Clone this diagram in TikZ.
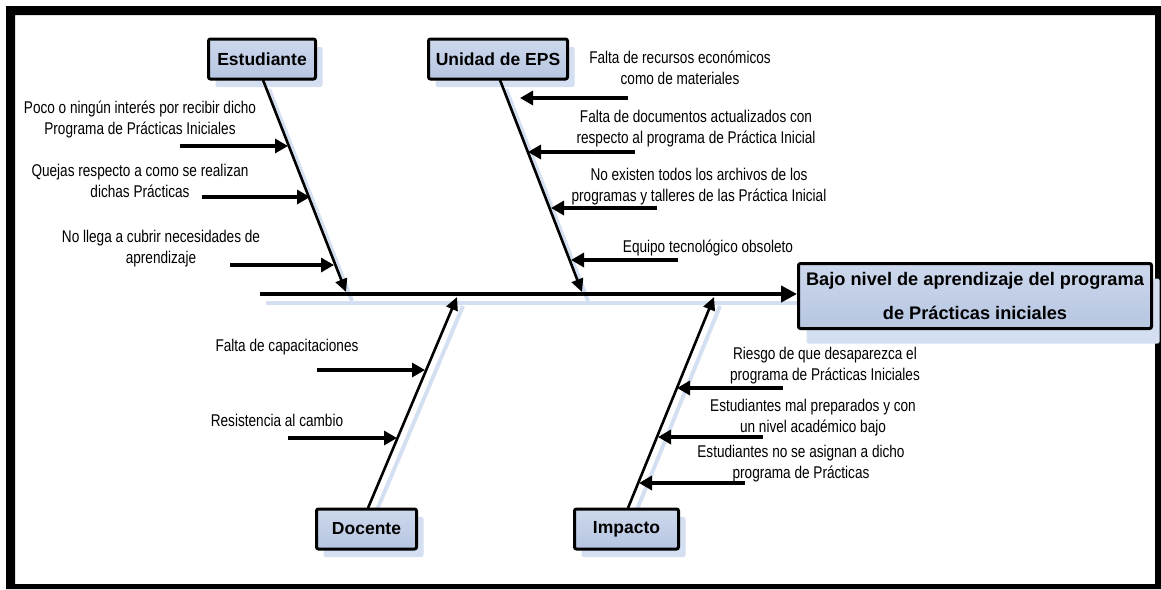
\documentclass[tikz,border=0pt]{standalone}
\usepackage{fontspec}
\setmainfont{Liberation Sans}
\newfontfamily\narrowfont[FakeStretch=0.8]{Liberation Sans}
\usetikzlibrary{arrows.meta,shadows}
\definecolor{boxfill}{RGB}{182,197,225}
\definecolor{boxtop}{RGB}{205,216,236}
\definecolor{shadowc}{RGB}{212,223,241}
\begin{document}
\begin{tikzpicture}[x=1pt,y=-1pt,
  cause/.style={font=\narrowfont\fontsize{17}{21}\selectfont, align=center, inner sep=0pt},
  catbox/.style={draw=black, line width=3pt, rounded corners=2pt, top color=boxtop, bottom color=boxfill,
     font=\bfseries\fontsize{17.5}{20}\selectfont, inner sep=0pt, minimum width=107pt, minimum height=40pt,
     drop shadow={shadow xshift=7pt, shadow yshift=-8pt, fill=shadowc, opacity=1}},
  effbox/.style={draw=black, line width=3pt, rounded corners=2pt, top color=boxtop, bottom color=boxfill,
     font=\bfseries\fontsize{18.2}{34}\selectfont, align=center, inner sep=0pt, minimum width=353pt, minimum height=65pt,
     drop shadow={shadow xshift=8pt, shadow yshift=-15pt, fill=shadowc, opacity=1}},
  shadowline/.style={draw=shadowc, line width=4pt},
  bone/.style={draw=black, line width=2.6pt, -{Triangle[length=13pt,width=12pt]}},
  spineline/.style={draw=black, line width=4pt, -{Triangle[length=16pt,width=16pt]}},
  causearrow/.style={draw=black, line width=4pt, -{Triangle[length=13pt,width=14pt]}}
]
\useasboundingbox (0,0) rectangle (1161,589);
\fill[black,even odd rule] (6,6) rectangle (1161,589) (15,15) rectangle (1155,584);

% bone coordinates
\coordinate (sp0) at (260,294);
\coordinate (eb1) at (263,80);  \coordinate (eb2) at (346,292);
\coordinate (ub1) at (500,80);  \coordinate (ub2) at (582,292);
\coordinate (db1) at (368,508); \coordinate (db2) at (457,297);
\coordinate (ib1) at (628,508); \coordinate (ib2) at (714,297);

% shadows of spine and bones
\draw[shadowline] ([shift={(6,9)}]sp0) -- (800,303);
\draw[shadowline] ([shift={(6,9)}]eb1) -- ([shift={(6,9)}]eb2);
\draw[shadowline] ([shift={(6,9)}]ub1) -- ([shift={(6,9)}]ub2);
\draw[shadowline] ([shift={(6,9)}]db1) -- ([shift={(6,9)}]db2);
\draw[shadowline] ([shift={(6,9)}]ib1) -- ([shift={(6,9)}]ib2);

% boxes
\node[catbox] (est) at (262,59) {Estudiante};
\node[catbox, minimum width=139pt] (uni) at (498,59) {Unidad de EPS};
\node[catbox, minimum width=100pt] (doc) at (366.5,529) {Docente};
\node[catbox, minimum width=104pt] (imp) at (626.5,529) {Impacto};
\node[effbox] (eff) at (975,296) {Bajo nivel de aprendizaje del programa\\de Prácticas iniciales};

% spine and bones
\draw[spineline] (sp0) -- (eff.west |- sp0);
\draw[bone] (eb1) -- (eb2);
\draw[bone] (ub1) -- (ub2);
\draw[bone] (db1) -- (db2);
\draw[bone] (ib1) -- (ib2);

% Estudiante causes
\node[cause] (e1) at (140,120) {Poco o ningún interés por recibir dicho\\Programa de Prácticas Iniciales};
\node[cause] (e2) at (140,181) {Quejas respecto a como se realizan\\dichas Prácticas};
\node[cause] (e3) at (161,249) {No llega a cubrir necesidades de\\aprendizaje};
\coordinate (e1t) at (180,146); \coordinate (e1h) at (288,146);
\coordinate (e2t) at (202,197); \coordinate (e2h) at (310,197);
\coordinate (e3t) at (230,265); \coordinate (e3h) at (334,265);
\draw[causearrow] (e1t) -- (e1h);
\draw[causearrow] (e2t) -- (e2h);
\draw[causearrow] (e3t) -- (e3h);

% Unidad de EPS causes
\node[cause] (u1) at (680,68) {Falta de recursos económicos\\como de materiales};
\node[cause] (u2) at (696,129) {Falta de documentos actualizados con\\respecto al programa de Práctica Inicial};
\node[cause] (u3) at (699,187) {No existen todos los archivos de los\\programas y talleres de las Práctica Inicial};
\node[cause] (u4) at (708,248) {Equipo tecnológico obsoleto};
\coordinate (u1t) at (628,98);  \coordinate (u1h) at (520,98);
\coordinate (u2t) at (635,152); \coordinate (u2h) at (528,152);
\coordinate (u3t) at (657,208); \coordinate (u3h) at (551,208);
\coordinate (u4t) at (678,260); \coordinate (u4h) at (571,260);
\draw[causearrow] (u1t) -- (u1h);
\draw[causearrow] (u2t) -- (u2h);
\draw[causearrow] (u3t) -- (u3h);
\draw[causearrow] (u4t) -- (u4h);

% Docente causes
\node[cause] (d1) at (287,347) {Falta de capacitaciones};
\node[cause] (d2) at (277,420) {Resistencia al cambio};
\coordinate (d1t) at (317,370); \coordinate (d1h) at (425,370);
\coordinate (d2t) at (288,438); \coordinate (d2h) at (397,438);
\draw[causearrow] (d1t) -- (d1h);
\draw[causearrow] (d2t) -- (d2h);

% Impacto causes
\node[cause] (i1) at (825,366) {Riesgo de que desaparezca el\\programa de Prácticas Iniciales};
\node[cause] (i2) at (813,418) {Estudiantes mal preparados y con\\un nivel académico bajo};
\node[cause] (i3) at (801,464) {Estudiantes no se asignan a dicho\\programa de Prácticas};
\coordinate (i1t) at (783,388); \coordinate (i1h) at (677,388);
\coordinate (i2t) at (763,437); \coordinate (i2h) at (658,437);
\coordinate (i3t) at (745,483); \coordinate (i3h) at (639,483);
\draw[causearrow] (i1t) -- (i1h);
\draw[causearrow] (i2t) -- (i2h);
\draw[causearrow] (i3t) -- (i3h);
\end{tikzpicture}
\end{document}
